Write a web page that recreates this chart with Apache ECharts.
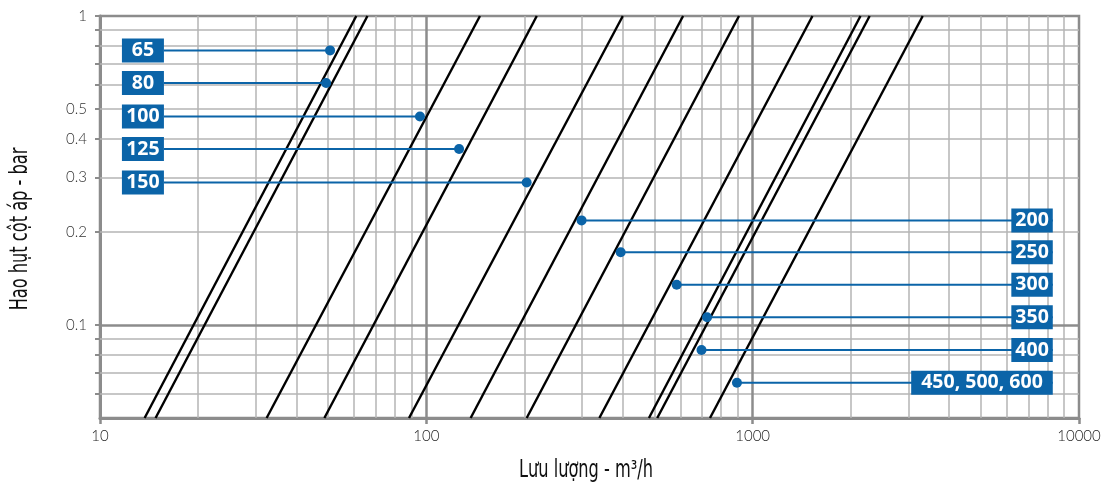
<!DOCTYPE html>
<html>
<head>
<meta charset="utf-8">
<script src="https://cdn.jsdelivr.net/npm/echarts@6/dist/echarts.min.js"></script>
<style>html,body{margin:0;padding:0;background:#fff}#c{width:1106px;height:486px}</style>
</head>
<body>
<div id="c"></div>
<script>
// ---- data ----
// flow (m3/h) where each pressure-loss line crosses the bottom (0.05 bar) and top (1 bar)
const lineBottomFlow = [13.7, 14.8, 32.4, 48.7, 88.5, 136.7, 203, 339, 481, 510, 740];
const lineTopFlow    = [61, 66, 146, 218, 400, 612, 908, 1525, 2140, 2283, 3320];
const lineBottomP = 0.05;
const lineTopP = 1;

// DN annotation labels and their marker points
const dnLabels = ['65', '80', '100', '125', '150', '200', '250', '300', '350', '400', '450, 500, 600'];
const dnDotFlow = [50.7, 49.3, 95.6, 126, 203, 299, 394, 585, 725, 697, 895];
const dnDotP    = [0.774, 0.607, 0.473, 0.371, 0.289, 0.218, 0.172, 0.135, 0.106, 0.083, 0.065];
const dnSide    = ['left', 'left', 'left', 'left', 'left', 'right', 'right', 'right', 'right', 'right', 'right'];
const dnLeftAnchorFlow = 15.7;    // right edge of left-hand boxes
const dnRightAnchorFlow = 8311;   // right edge of right-hand boxes

// axis ticks / grid
const xMin = 10, xMax = 10000;
const yMin = 0.05, yMax = 1;
const xMinorGrid = [20, 30, 40, 50, 60, 70, 80, 90, 200, 300, 400, 500, 600, 700, 800, 900, 2000, 3000, 4000, 5000, 6000, 7000, 8000, 9000];
const xMajorGrid = [100, 1000];
const yMinorGrid = [0.06, 0.07, 0.08, 0.09, 0.2, 0.3, 0.4, 0.5, 0.6, 0.7, 0.8, 0.9];
const yMajorGrid = [0.1];
const yTickValues = [0.06, 0.07, 0.08, 0.09, 0.1, 0.2, 0.3, 0.4, 0.5, 0.6, 0.7, 0.8, 0.9, 1];
const yLabelValues = [0.1, 0.2, 0.3, 0.4, 0.5, 1];
const xTitle = 'Lưu lượng - m³/h';
const yTitle = 'Hao hụt cột áp - bar';

// ---- chart ----
const BLUE = '#0b64a8';
const GRID_MINOR = '#b4b4b4';
const GRID_MAJOR = '#8c8c8c';
const tickFont = 'Lato, "Noto Sans", sans-serif';
const titleFont = '"DejaVu Sans Condensed", "DejaVu Sans", sans-serif';

const gridLines = [];
xMinorGrid.forEach(v => gridLines.push({xAxis: v, lineStyle: {color: GRID_MINOR, width: 1.5, type: 'solid'}}));
yMinorGrid.forEach(v => gridLines.push({yAxis: v, lineStyle: {color: GRID_MINOR, width: 1.5, type: 'solid'}}));
xMajorGrid.forEach(v => gridLines.push({xAxis: v, lineStyle: {color: GRID_MAJOR, width: 2.5, type: 'solid'}}));
yMajorGrid.forEach(v => gridLines.push({yAxis: v, lineStyle: {color: GRID_MAJOR, width: 2.5, type: 'solid'}}));

const series = [];
series.push({
  type: 'line', data: [], z: 1, silent: true,
  markLine: {z: 1, silent: true, symbol: ['none', 'none'], label: {show: false}, animation: false, data: gridLines}
});
lineBottomFlow.forEach((b, i) => {
  series.push({
    type: 'line', z: 3, showSymbol: false, silent: true, animation: false,
    lineStyle: {color: '#000', width: 2.4},
    data: [[b, lineBottomP], [lineTopFlow[i], lineTopP]]
  });
});
dnLabels.forEach((lab, i) => {
  const anchor = dnSide[i] === 'left' ? dnLeftAnchorFlow : dnRightAnchorFlow;
  series.push({
    type: 'line', z: 4, showSymbol: false, silent: true, animation: false,
    lineStyle: {color: BLUE, width: 2},
    data: [[anchor, dnDotP[i]], [dnDotFlow[i], dnDotP[i]]]
  });
});
series.push({
  type: 'scatter', z: 5, silent: true, animation: false,
  symbol: 'circle', symbolSize: 10, itemStyle: {color: BLUE, opacity: 1},
  data: dnDotFlow.map((q, i) => [q, dnDotP[i]])
});
series.push({
  type: 'scatter', z: 6, silent: true, animation: false,
  symbolSize: 0, itemStyle: {opacity: 1},
  data: dnLabels.map((lab, i) => ({
    value: [dnSide[i] === 'left' ? dnLeftAnchorFlow : dnRightAnchorFlow, dnDotP[i]],
    name: lab,
    label: {
      show: true, position: 'left', distance: 0,
      formatter: dnSide[i] === 'left' ? '{l|' + lab + '}' : '{r|' + lab + '}',
      rich: {
        l: {width: 42, height: 24, lineHeight: 24, align: 'center', backgroundColor: BLUE,
            color: '#fff', fontFamily: '"Open Sans", sans-serif', fontWeight: 'bold', fontSize: 19.5},
        r: {height: 24, lineHeight: 24, padding: [0, lab.length > 5 ? 10 : 4], backgroundColor: BLUE,
            color: '#fff', fontFamily: '"Open Sans", sans-serif', fontWeight: 'bold', fontSize: 19.5}
      }
    }
  }))
});

const chart = echarts.init(document.getElementById('c'), null, {renderer: 'canvas'});
chart.setOption({
  animation: false,
  grid: {left: 100, right: 27, top: 16, bottom: 68, show: true, borderColor: GRID_MAJOR, borderWidth: 2.5, backgroundColor: 'transparent'},
  xAxis: {
    type: 'log', logBase: 10, min: xMin, max: xMax,
    axisLine: {show: true, lineStyle: {color: GRID_MAJOR, width: 3}},
    axisTick: {show: true, length: 6, lineStyle: {color: GRID_MAJOR, width: 2.5}},
    splitLine: {show: false}, minorTick: {show: false},
    axisLabel: {margin: 11, color: '#222', fontFamily: tickFont, fontSize: 15, fontWeight: 300,
      formatter: v => String(Math.round(v))}
  },
  yAxis: {
    type: 'log', logBase: 10, min: yMin, max: yMax,
    axisLine: {show: true, lineStyle: {color: GRID_MAJOR, width: 3}},
    axisTick: {show: true, length: 5, customValues: yTickValues, lineStyle: {color: GRID_MAJOR, width: 2}},
    splitLine: {show: false},
    axisLabel: {margin: 13, color: '#333', fontFamily: tickFont, fontSize: 15, fontWeight: 300,
      customValues: yLabelValues,
      formatter: v => String(parseFloat(Number(v).toPrecision(6)))}
  },
  graphic: [
    {type: 'text', x: 586, y: 471, scaleX: 0.75, style: {text: xTitle, align: 'center', verticalAlign: 'middle',
      font: 'normal 24px ' + titleFont, fill: '#111'}},
    {type: 'text', x: 21, y: 229, rotation: Math.PI / 2, scaleX: 0.75, style: {text: yTitle, align: 'center', verticalAlign: 'middle',
      font: 'normal 24px ' + titleFont, fill: '#111'}}
  ],
  series: series
});
</script>
</body>
</html>
